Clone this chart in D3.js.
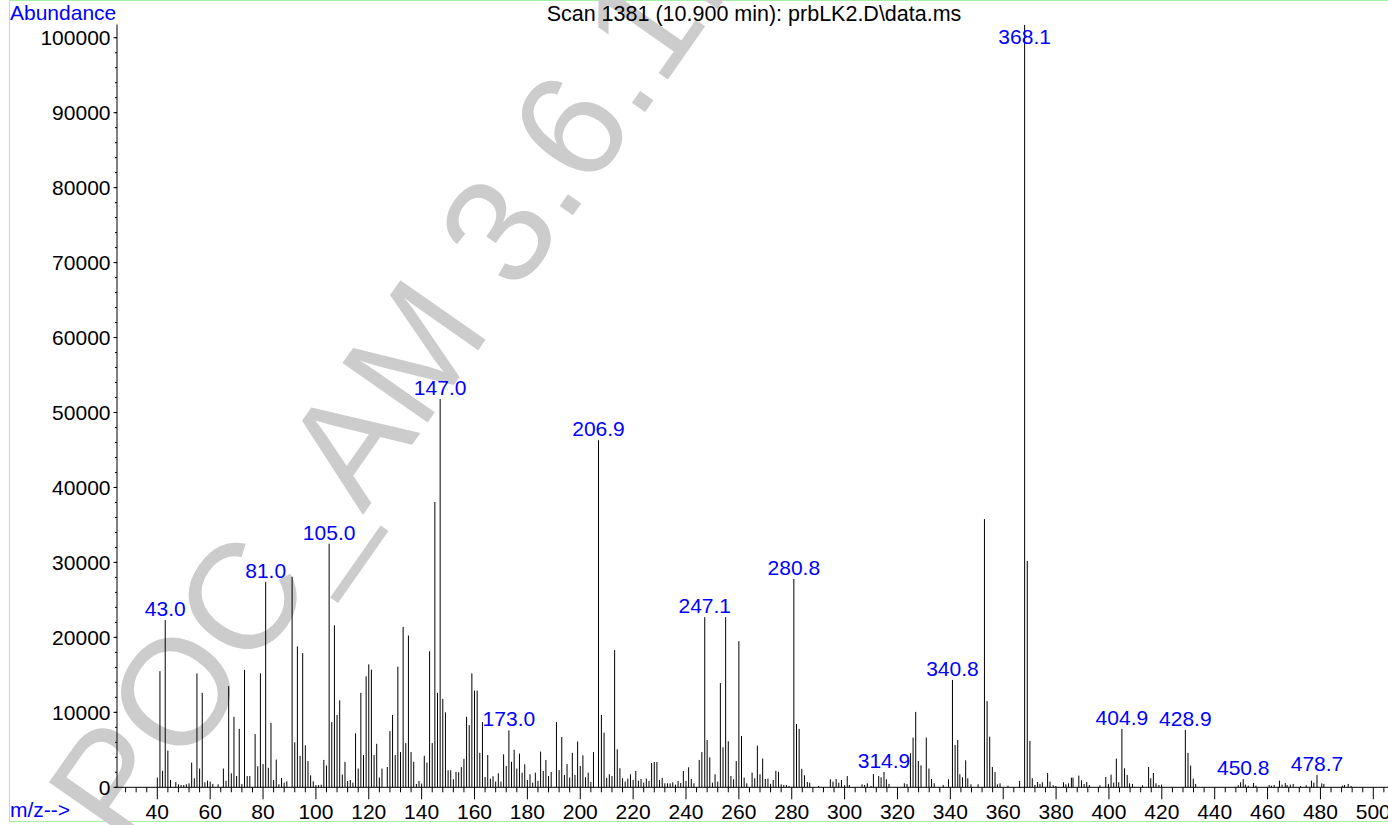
<!DOCTYPE html>
<html>
<head>
<meta charset="utf-8">
<script src="https://cdn.jsdelivr.net/npm/d3@7"></script>
<style>
  html, body { margin: 0; padding: 0; background: #fff; }
  svg { display: block; font-family: "Liberation Sans", Arial, Helvetica, sans-serif; }
</style>
</head>
<body>
<svg id="chart" width="1388" height="825"></svg>
<script>
// ---- data ----
const chartTitle = "Scan 1381 (10.900 min): prbLK2.D\\data.ms";
const yAxisTitle = "Abundance";
const xAxisTitle = "m/z-->";
const watermarkText = "POC_AM 3.6.1.0";

const mz = [
  40,41,42,43,44,45,47,48,49,50,51,52,53,54,55,56,57,58,59,60,61,63,65,66,67,68,69,70,71,72,73,74,75,77,78,79,80,
  81,82,83,84,85,86,87,88,89,91,92,93,94,95,96,97,98,99,100,101,102,103,104,105,106,107,108,109,110,111,112,113,114,
  115,116,117,118,119,120,121,122,123,124,125,127,128,129,130,131,132,133,134,135,136,137,138,139,140,141,142,143,144,
  145,146,147,148,149,150,151,152,153,154,155,156,157,158,159,160,161,162,163,164,165,166,167,168,169,170,171,172,173,
  174,175,176,177,178,179,180,181,182,183,184,185,186,187,188,189,191,192,193,194,195,196,197,198,199,200,201,202,203,
  204,205,206.9,208,209,210,211,212,213,214,215,216,217,218,219,220,221,222,223,224,225,226,227,228,229,230,231,232,233,
  234,235,236,237,238,239,240,241,242,243,245,246,247.1,248,249,250,251,252,253,254,255,256,257,258,259,260,261,262,263,
  265,266,267,268,269,270,271,272,273,274,275,276,277,278,279,280.8,281.8,282.8,283.8,284.8,285.9,286.8,290.2,294.6,
  295.6,296.8,297.8,298.8,300,301,301.8,306.6,307.6,308.6,310,310.9,312.9,313.8,314.9,315.8,316.8,322.6,323.6,324.9,
  325.9,326.9,327.9,328.9,330.9,331.9,332.9,333.9,337.3,339.3,340.8,341.8,342.8,343.6,344.6,345.8,346.6,347.8,350.5,
  352.9,353.9,354.9,355.9,356.9,357.8,358.8,361.8,366.2,368.1,369.1,370.1,371,372,373,373.9,374.8,376.8,377.7,378.9,
  379.9,382.8,383.7,384.7,385.8,386.4,388.6,389.6,390.6,391.6,392.6,396.6,398.8,399.8,400.8,401.8,402.8,403.7,404.9,
  405.9,406.9,407.8,408.9,412.7,415,415.8,416.8,417.8,418.9,419.9,428.9,429.9,430.9,431.9,432.8,448.9,449.8,450.8,
  451.6,452.7,454.7,455.6,460.6,461.5,462.5,464.5,465.5,466.7,467.4,468.6,469.7,472.5,474.6,476.6,477.5,478.7,480.5,
  481.3,488.4,489.1,490.5,491.6
];
const abundance = [
  1300,15500,2200,22300,4900,1000,700,400,300,300,400,530,3300,1200,15200,2500,12600,670,890,760,450,400,2500,850,13500,1870,9400,1500,7800,450,15660,1500,1500,7100,2800,15200,3100,
  27400,2600,8600,980,3700,400,1250,620,800,28100,6000,18800,4200,17900,5600,3500,1600,800,300,300,350,3650,2900,32500,8700,21600,9650,11600,1700,3400,850,980,620,
  7200,2500,12600,4300,14800,16400,15700,4300,5800,1300,2500,2700,7500,9650,4300,16100,4700,21400,5900,20250,4700,3400,450,850,500,4200,3300,18150,5900,
  38050,12600,51800,11800,10000,2270,2270,1070,2050,2000,2700,3800,9400,8300,15200,12900,12900,4600,8700,1380,4300,1150,1470,760,1870,760,4400,2850,7600,
  3400,5000,2500,4500,1960,3070,980,1740,620,1960,850,4760,2180,3650,1500,2050,8700,2300,6700,1650,3100,1300,4600,1650,6100,2850,4270,1330,1960,
  710,4700,46300,9650,7300,1250,1740,1500,18300,5070,2540,1200,760,1160,1740,980,2180,890,1110,620,1160,850,3250,3380,3380,980,1250,530,530,
  530,670,360,850,580,2180,850,2670,1110,530,3650,4700,22700,6300,4000,620,1740,760,13900,5340,22700,6140,1500,1070,3500,19500,6850,1300,530,
  1960,1200,5560,1740,3830,1110,1160,470,980,2200,2070,400,310,300,180,27800,8450,7800,2450,1600,710,620,180,1070,
  760,1110,620,980,270,1500,310,400,310,530,180,1780,1500,1330,2050,1070,450,530,450,4540,
  6630,10060,3500,2940,6630,2500,1110,530,310,1070,14330,5650,6320,1740,1330,3600,1200,400,400,
  35780,11500,6760,2710,2050,400,530,220,850,101700,30200,6190,1200,310,710,450,670,1910,760,270,
  180,670,400,530,1290,1290,1560,930,450,710,310,270,1380,450,1690,620,3830,670,7790,
  2540,1650,530,450,270,2710,1200,1910,530,310,360,7650,4600,2900,1150,450,270,670,1070,
  360,220,580,220,310,220,310,890,360,580,310,360,450,180,270,890,620,1650,530,
  450,220,310,450,180
];
const peakLabels = ["43.0","81.0","105.0","147.0","173.0","206.9","247.1","280.8","314.9","340.8","368.1","404.9","428.9","450.8","478.7"];
const yTicks = [0,10000,20000,30000,40000,50000,60000,70000,80000,90000,100000];
const xTicks = [40,60,80,100,120,140,160,180,200,220,240,260,280,300,320,340,360,380,400,420,440,460,480,500];

// ---- layout ----
const svg = d3.select("#chart");
const x = d3.scaleLinear().domain([40, 500]).range([157.3, 1373.3]);
const y = d3.scaleLinear().domain([0, 100000]).range([787.3, 37.7]);
const xMin = x.invert(117), xMax = x.invert(1400);
const yTop = y.invert(24.5);

const blue = "#0000ff";
const fs = 21;

// frame
svg.append("rect").attr("x", 9.5).attr("y", 0.5).attr("width", 1400).attr("height", 821)
  .attr("fill", "none").attr("stroke", "#a6f0a6").attr("stroke-width", 1);

// watermark
svg.append("text")
  .attr("transform", "translate(127,852) rotate(-55)")
  .attr("font-size", 151)
  .attr("fill", "#cccccc")
  .text(watermarkText);

// peaks
const peaks = mz.map((m, i) => ({ m, v: abundance[i] }));
svg.append("g").selectAll("line").data(peaks).join("line")
  .attr("x1", d => x(d.m)).attr("x2", d => x(d.m))
  .attr("y1", y(0)).attr("y2", d => y(d.v))
  .attr("stroke", "#000").attr("stroke-width", 1);

// y axis
const gy = svg.append("g");
gy.append("line").attr("x1", 117).attr("x2", 117).attr("y1", y(yTop)).attr("y2", y(0))
  .attr("stroke", "#000").attr("stroke-width", 1);
const yMinor = d3.range(0, yTop, 2000);
gy.selectAll(".ymin").data(yMinor).join("line")
  .attr("x1", 115).attr("x2", 117)
  .attr("y1", d => y(d)).attr("y2", d => y(d))
  .attr("stroke", "#000").attr("stroke-width", 1);
gy.selectAll(".ymaj").data(yTicks).join("line")
  .attr("x1", 113.5).attr("x2", 117)
  .attr("y1", d => y(d)).attr("y2", d => y(d))
  .attr("stroke", "#000").attr("stroke-width", 1);
gy.selectAll("text").data(yTicks).join("text")
  .attr("x", 110.5).attr("y", d => y(d)).attr("dy", "0.36em")
  .attr("text-anchor", "end").attr("font-size", fs).attr("fill", "#000")
  .text(d => d);

// x axis
const gx = svg.append("g");
gx.append("line").attr("x1", 117).attr("x2", 1400).attr("y1", y(0)).attr("y2", y(0))
  .attr("stroke", "#000").attr("stroke-width", 1);
const xMinor = d3.range(Math.ceil(xMin / 4) * 4, xMax, 4).filter(v => v % 20 !== 0);
gx.selectAll(".xmin").data(xMinor).join("line")
  .attr("x1", d => x(d)).attr("x2", d => x(d))
  .attr("y1", y(0)).attr("y2", y(0) + 5)
  .attr("stroke", "#000").attr("stroke-width", 1);
gx.selectAll(".xmaj").data(xTicks).join("line")
  .attr("x1", d => x(d)).attr("x2", d => x(d))
  .attr("y1", y(0)).attr("y2", y(0) + 12)
  .attr("stroke", "#000").attr("stroke-width", 1);
gx.selectAll("text").data(xTicks).join("text")
  .attr("x", d => x(d)).attr("y", 818.5)
  .attr("text-anchor", "middle").attr("font-size", fs).attr("fill", "#000")
  .text(d => d);

// peak labels
const labelData = peakLabels.map(s => {
  const m = +s;
  const p = peaks.reduce((a, b) => Math.abs(b.m - m) < Math.abs(a.m - m) ? b : a);
  return { s, m: p.m, v: p.v };
});
svg.append("g").selectAll("text").data(labelData).join("text")
  .attr("x", d => x(d.m)).attr("y", d => Math.max(y(d.v) - 4, 44))
  .attr("text-anchor", "middle").attr("font-size", fs).attr("fill", blue)
  .text(d => d.s);

// titles
svg.append("text").attr("x", 10).attr("y", 20).attr("font-size", fs).attr("fill", blue).text(yAxisTitle);
svg.append("text").attr("x", 10).attr("y", 817).attr("font-size", fs).attr("fill", blue).text(xAxisTitle);
svg.append("text").attr("x", 754).attr("y", 20.5).attr("text-anchor", "middle").attr("font-size", 21.5).attr("fill", "#000").text(chartTitle);
</script>
</body>
</html>
